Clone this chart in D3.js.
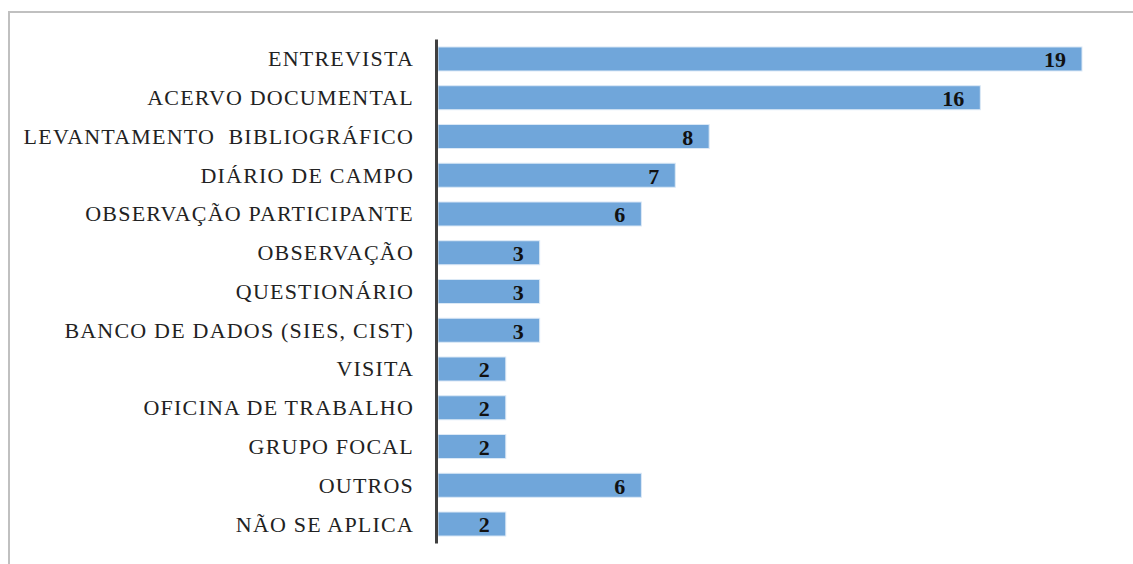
<!DOCTYPE html>
<html>
<head>
<meta charset="utf-8">
<script src="https://cdn.jsdelivr.net/npm/d3@7"></script>
<style>
 body{margin:0;background:#fff;}
 svg{display:block;}
</style>
</head>
<body>
<div id="chart"></div>
<script>
// chart data
var categories = ["ENTREVISTA","ACERVO DOCUMENTAL","LEVANTAMENTO  BIBLIOGRÁFICO","DIÁRIO DE CAMPO",
 "OBSERVAÇÃO PARTICIPANTE","OBSERVAÇÃO","QUESTIONÁRIO","BANCO DE DADOS (SIES, CIST)","VISITA",
 "OFICINA DE TRABALHO","GRUPO FOCAL","OUTROS","NÃO SE APLICA"];
var values = [19,16,8,7,6,3,3,3,2,2,2,6,2];

var W = 1133, H = 564;
var serif = "'Liberation Serif', 'Times New Roman', serif";
var svg = d3.select("#chart").append("svg").attr("width",W).attr("height",H);

// outer frame (top and left edges visible)
svg.append("path")
 .attr("d","M9,564 L9,12 L1133,12")
 .attr("fill","none").attr("stroke","#c0c0c0").attr("stroke-width",2);

var x0 = 438;
var xScale = d3.scaleLinear().domain([0,19]).range([x0,1082]);
var yScale = d3.scaleBand().domain(categories).range([39.6,543.4]).paddingInner(0.38).paddingOuter(0.19);

svg.selectAll(".bar")
 .data(values)
 .enter().append("rect")
 .attr("class","bar")
 .attr("x",x0)
 .attr("y",function(d,i){ return yScale(categories[i]); })
 .attr("width",function(d){ return xScale(d)-x0; })
 .attr("height",yScale.bandwidth())
 .attr("fill","#70a6da")
 .attr("stroke","#dce9f6").attr("stroke-width",1);

svg.selectAll(".lbl")
 .data(categories)
 .enter().append("text")
 .attr("class","lbl")
 .attr("x",414)
 .attr("y",function(d){ return yScale(d)+yScale.bandwidth()/2; })
 .attr("dy","0.34em")
 .attr("text-anchor","end")
 .style("font-family",serif)
 .style("font-size","22px")
 .style("letter-spacing","1.2px")
 .style("fill","#222")
 .style("white-space","pre")
 .text(function(d){ return d; });

svg.selectAll(".val")
 .data(values)
 .enter().append("text")
 .attr("class","val")
 .attr("x",function(d){ return xScale(d)-16; })
 .attr("y",function(d,i){ return yScale(categories[i])+yScale.bandwidth()/2; })
 .attr("dy","0.38em")
 .attr("text-anchor","end")
 .style("font-family",serif)
 .style("font-size","22px")
 .style("font-weight","bold")
 .style("fill","#111")
 .text(function(d){ return d; });

// category axis line
svg.append("line")
 .attr("x1",436.5).attr("x2",436.5)
 .attr("y1",39.6).attr("y2",543.4)
 .attr("stroke","#404040").attr("stroke-width",3);
</script>
</body>
</html>
